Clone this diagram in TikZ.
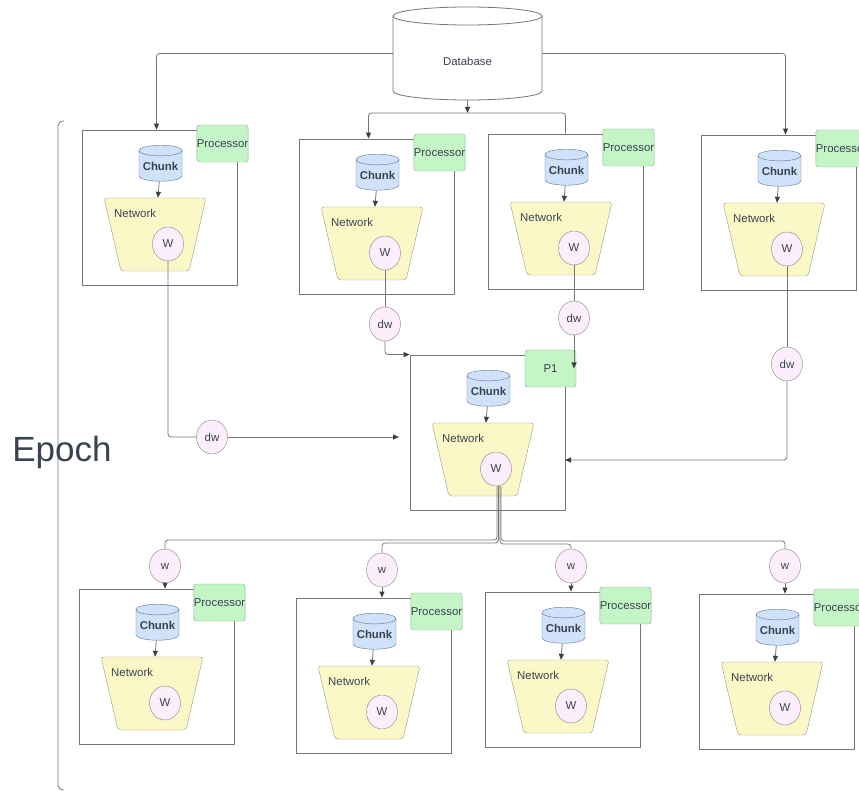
\documentclass[tikz,border=0pt]{standalone}
\usepackage{fontspec}
\setmainfont{Liberation Sans}
\usetikzlibrary{shapes.geometric,arrows.meta}
\definecolor{edge}{HTML}{767676}
\definecolor{tipc}{HTML}{3A3F47}
\definecolor{ink}{HTML}{3B4350}
\definecolor{procfill}{HTML}{C4F5C7}
\definecolor{procline}{HTML}{8FAF95}
\definecolor{chunkfill}{HTML}{CFE2FA}
\definecolor{chunkline}{HTML}{5F7390}
\definecolor{netfill}{HTML}{FBF8C8}
\definecolor{netline}{HTML}{9C9A7A}
\definecolor{wfill}{HTML}{FCEEFB}
\definecolor{wline}{HTML}{8A7F8A}

\begin{document}
\begin{tikzpicture}[x=1pt,y=-1pt,every node/.style={font=\fontsize{11.4}{13}\selectfont,text=ink},
line/.style={draw=edge,line width=0.8pt},
arr/.style={line,-{Triangle[length=6pt,width=5pt,color=tipc]}},
unitbox/.style={draw=edge,line width=0.8pt,minimum width=155,minimum height=155,inner sep=0},
proc/.style={draw=procline,fill=procfill,rounded corners=2.5,minimum width=51,minimum height=37,inner sep=0},
chunk/.style={cylinder,shape border rotate=90,aspect=0.3,draw=chunkline,fill=chunkfill,minimum width=43,minimum height=36,inner sep=0,font=\bfseries\fontsize{11.4}{13}\selectfont},
net/.style={trapezium,shape border rotate=180,trapezium stretches=true,trapezium angle=76,minimum width=102,minimum height=73,draw=netline,fill=netfill,rounded corners=3},
wt/.style={ellipse,draw=wline,fill=wfill,minimum width=31,minimum height=34,inner sep=0}]
\useasboundingbox (0,0) rectangle (859,791);
\filldraw[line,fill=white] (393,16) -- (393,91) arc[start angle=180,end angle=0,x radius=74.5,y radius=9] -- (542,16) arc[start angle=0,end angle=-180,x radius=74.5,y radius=9] -- cycle;
\draw[line] (393,16) arc[start angle=180,end angle=0,x radius=74.5,y radius=9];
\node[minimum width=149,minimum height=93,inner sep=0] (db) at (467.5,53.5) {};
\node (dbt) at (467.5,61) {Database};
\foreach \n/\x/\y/\t in {b1/82/130/Processor,b2/299/139/Processor,b3/488/134/Processor,b4/701/135/Processor,c/410/355/P1,b5/79/589/Processor,b6/296/598/Processor,b7/485/592/Processor,b8/699/594/Processor}{
\node[unitbox] (\n) at ({\x+77.5},{\y+77.5}) {};
\node[proc] (\n-p) at ({\x+140.5},{\y+13.5}) {\t};
\node[chunk] (\n-c) at ({\x+78.5},{\y+36}) {Chunk};
\node[net] (\n-n) at ({\x+73},{\y+104.5}) {};
\node[anchor=west,inner sep=0] (\n-l) at ({\x+32},{\y+83}) {Network};
\node[wt] (\n-w) at ({\x+86},{\y+114}) {W};
\draw[arr] (\n-c) -- (\n-n);
}
\draw[arr,rounded corners=3] (db.west) -| ([xshift=-3pt]b1.north);
\draw[arr,rounded corners=3] (db.east) -| ([xshift=7pt]b4.north);
\coordinate (split) at (467.5,113);
\draw[arr] (db.south) -- (split);
\draw[arr,rounded corners=3] (split) -| ([xshift=-8pt]b2.north);
\draw[line,rounded corners=3] (split) -| (b3.north);
\node[wt] (dw1) at (212,437) {dw};
\node[wt] (dw2) at (385,324) {dw};
\node[wt] (dw3) at (574,318) {dw};
\node[wt] (dw4) at (787,364) {dw};
\coordinate (in1) at (399,437);
\coordinate (in4) at (565,460);
\draw[line,rounded corners=3] (b1-w) |- (dw1);
\draw[arr] (dw1) -- (in1);
\draw[line] (b2-w) -- (dw2);
\draw[arr,rounded corners=3] (dw2) |- (c.north west);
\draw[line] (b3-w) -- (dw3);
\draw[arr] (dw3) -- (dw3 |- c-p.east);
\draw[line] (b4-w) -- (dw4);
\draw[arr,rounded corners=3] (dw4) |- (in4);
\node[wt] (w5) at (165,566) {w};
\node[wt] (w6) at (382,570) {w};
\node[wt] (w7) at (571,566) {w};
\node[wt] (w8) at (785,566) {w};
\coordinate (f5) at (497,540);
\coordinate (f6) at (498.5,543);
\coordinate (f7) at (500,544);
\coordinate (f8) at (501,541);
\foreach \k in {5,6,7,8}{
\draw[line,rounded corners=3] (f\k |- c-w.south) -- (f\k) -| (w\k);
\draw[arr] (w\k) -- (w\k |- b\k.north);
}
\draw[line,rounded corners=5] (64,121) -- (58,121) -- (58,790) -- (64,790);
\node (epoch) at (62,452) {\fontsize{35}{40}\selectfont Epoch};
\end{tikzpicture}
\end{document}
